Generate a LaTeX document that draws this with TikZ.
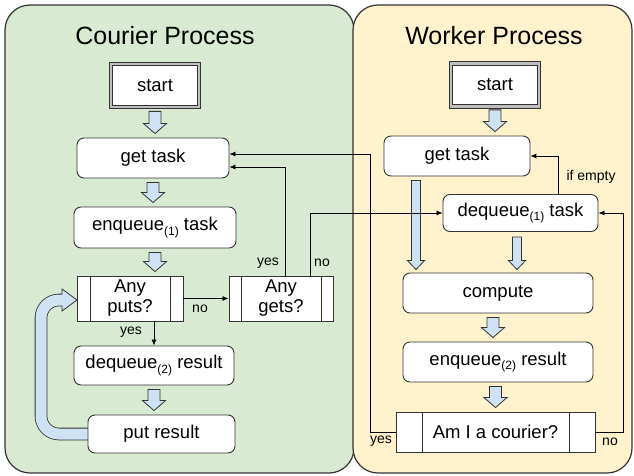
\documentclass[tikz,border=0pt]{standalone}
\usepackage{fontspec}
\setmainfont{Liberation Sans}
\usetikzlibrary{calc,arrows.meta}
\definecolor{cgreen}{HTML}{D9EAD3}
\definecolor{cyellow}{HTML}{FFF2CC}
\definecolor{cblue}{HTML}{CFE2F3}
\definecolor{cline}{HTML}{333333}
\newcommand\boxfont{\fontsize{18.5}{20}\selectfont}
\newcommand\subs[1]{\raisebox{-0.45ex}{\fontsize{12}{12}\selectfont(#1)}}
\newcommand\blockarrow[5]{%
 \draw[barrow] let \p1=(#1), \p2=(#2) in
  (\x1-#3,\y1) -- (\x1+#3,\y1) -- (\x1+#3,\y2+#5) -- (\x1+#4,\y2+#5) --
  (\x1,\y2) -- (\x1-#4,\y2+#5) -- (\x1-#3,\y2+#5) -- cycle;}
\tikzset{
 box/.style={draw=cline, line width=0.9pt, fill=white, rounded corners=7pt,
   inner sep=0pt, font=\boxfont, align=center},
 startbox/.style={draw=cline, line width=0.8pt, double=gray!50, double distance=2.6pt,
   fill=white, inner sep=0pt, font=\boxfont},
 proc/.style={draw=cline, line width=0.9pt, fill=white, inner sep=0pt, font=\boxfont,
   align=center, path picture={\draw[cline, line width=0.9pt]
   ([xshift=#1]path picture bounding box.north west) -- ([xshift=#1]path picture bounding box.south west)
   ([xshift=-#1]path picture bounding box.north east) -- ([xshift=-#1]path picture bounding box.south east);}},
 conn/.style={draw=black, line width=0.8pt, -{Latex[length=6pt,width=5pt]}},
 lbl/.style={font=\fontsize{14}{16}\selectfont, inner sep=0pt},
 barrow/.style={draw=cline, line width=0.8pt, fill=cblue, line join=miter},
 panel/.style={draw=cline, line width=1.2pt, rounded corners=25pt},
 titletext/.style={font=\fontsize{25}{28}\selectfont, inner sep=0pt},
}
\begin{document}
\begin{tikzpicture}[x=1pt,y=-1pt]
\useasboundingbox (0,0) rectangle (634,476);
% panels
\draw[panel, fill=cgreen] (5,5) rectangle (354,473);
\draw[panel, fill=cyellow] (353,5) rectangle (632,473);
\node[titletext] (ctitle) at (165,36) {Courier Process};
\node[titletext] (wtitle) at (494,36) {Worker Process};

% big curved loop arrow (drawn before the boxes)
\coordinate (loopa) at (41,434);
\coordinate (loopb) at (41,300);
\coordinate (loopc) at (64,300);
\draw[line width=0.8pt, draw=cline, double=cblue, double distance=11pt, rounded corners=18pt]
  (88,434) -- (loopa) -- (loopb) -- (loopc);
\draw[barrow] (62,294.5) -- (62,289) -- (77,300) -- (62,311) -- (62,305.5);

% courier nodes
\node[startbox, minimum width=88pt, minimum height=43pt] (cstart) at (155,85.5) {start};
\node[box, minimum width=152pt, minimum height=40pt] (cget) at (153,158) {get task};
\node[box, minimum width=162pt, minimum height=41pt] (cenq) at (155,227.5) {enqueue\subs{1} task};
\node[proc=13pt, minimum width=106pt, minimum height=45pt] (cputs) at (130,298.5) {Any\\puts?};
\node[proc=12pt, minimum width=104pt, minimum height=45pt] (cgets) at (281,298.5) {Any\\gets?};
\node[box, minimum width=160pt, minimum height=39pt] (cdeq) at (154,365.5) {dequeue\subs{2} result};
\node[box, minimum width=147pt, minimum height=38pt] (cputr) at (161.5,434) {put result};

% worker nodes
\node[startbox, minimum width=88pt, minimum height=43pt] (wstart) at (495,85) {start};
\node[box, minimum width=146pt, minimum height=40pt] (wget) at (457,156) {get task};
\node[box, minimum width=155pt, minimum height=37pt] (wdeq) at (520.5,213) {dequeue\subs{1} task};
\node[box, minimum width=190pt, minimum height=40pt] (wcomp) at (498,293) {compute};
\node[box, minimum width=190pt, minimum height=40pt] (wenq) at (498,362) {enqueue\subs{2} result};
\node[proc=26pt, minimum width=199pt, minimum height=40pt] (wcour) at (495.5,432) {Am I a courier?};

% block arrows
\blockarrow{$(cstart.south)+(0,4)$}{$(cget.north)+(0,-4)$}{6pt}{11.5pt}{10pt}
\blockarrow{$(cget.south)+(0,4)$}{$(cenq.north)+(0,-4)$}{6pt}{11.5pt}{10pt}
\blockarrow{$(cenq.south)+(0,4)$}{$(cputs.north)+(0,-4)$}{6pt}{11.5pt}{10pt}
\blockarrow{$(cdeq.south)+(0,4)$}{$(cputr.north)+(0,-4)$}{6pt}{11.5pt}{10pt}
\blockarrow{$(wstart.south)+(0,3)$}{$(wget.north)+(0,-4)$}{6pt}{11.5pt}{10pt}
\blockarrow{$(wget.south)+(-41,4)$}{$(wcomp.north)+(0,-3)$}{4.5pt}{8.5pt}{9pt}
\blockarrow{$(wdeq.south)+(-3.5,5)$}{$(wcomp.north)+(0,-3)$}{4.5pt}{8.5pt}{9pt}
\blockarrow{$(wcomp.south)+(-5,4)$}{$(wenq.north)+(0,-4)$}{6pt}{11.5pt}{10pt}
\blockarrow{$(wenq.south)+(-2.5,4)$}{$(wcour.north)+(0,-4)$}{6pt}{11.5pt}{10pt}

% connectors
\draw[conn] (cputs.east) -- (cgets.west);
\draw[conn] ([xshift=24pt]cputs.south) -- ([xshift=24pt]cputs.south |- cdeq.north);
\draw[conn] ([xshift=4pt]cgets.north) |- ([yshift=-9pt]cget.east);
\draw[conn] ([xshift=29pt]cgets.north) |- (wdeq.west);
\draw[conn] (wcour.west) -- ++(-25,0) |- ([yshift=4pt]cget.east);
\draw[conn] (wcour.east) -- ++(28,0) |- (wdeq.east);
\draw[conn] ([xshift=37.5pt]wdeq.north) |- (wget.east);

% labels
\node[lbl] (lno1) at (200,309) {no};
\node[lbl] (lyes1) at (131,332) {yes};
\node[lbl] (lyes2) at (268,263) {yes};
\node[lbl] (lno2) at (322,263) {no};
\node[lbl] (lempty) at (591,177) {if empty};
\node[lbl] (lyes3) at (381,441) {yes};
\node[lbl] (lno3) at (610,442) {no};
\end{tikzpicture}
\end{document}
